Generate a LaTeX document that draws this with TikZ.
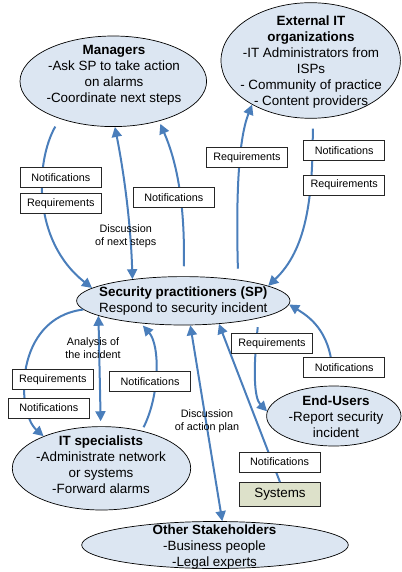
\documentclass[tikz,border=0pt]{standalone}
\usepackage{fontspec}
\setmainfont{Liberation Sans}
\usetikzlibrary{shapes.geometric,arrows.meta}

\definecolor{bubblefill}{RGB}{220,230,242}
\definecolor{flowblue}{RGB}{74,126,187}
\definecolor{sysfill}{RGB}{221,225,202}

\tikzset{
  bubble/.style={ellipse, draw=black, line width=0.7pt, fill=bubblefill, inner sep=0pt},
  bubtext/.style={align=center, inner sep=0pt, font=\fontsize{13.4}{16}\selectfont},
  sysbox/.style={draw=black!85, fill=sysfill, line width=0.7pt, minimum width=81pt, minimum height=24pt, inner sep=0pt, font=\fontsize{13.4}{16}\selectfont},
  tag/.style={draw=black!85, fill=white, line width=0.7pt, minimum width=81pt, minimum height=20pt, inner sep=0pt, font=\fontsize{10.8}{13}\selectfont},
  note/.style={align=center, inner sep=0pt, font=\fontsize{10.8}{12.5}\selectfont},
  flow/.style={draw=flowblue, line width=2pt, -{Triangle[length=10pt,width=10pt]}},
  twoway/.style={draw=flowblue, line width=2pt, {Triangle[length=10pt,width=10pt]}-{Triangle[length=10pt,width=10pt]}}
}

\begin{document}
\begin{tikzpicture}[x=1pt,y=-1pt]
\useasboundingbox (0,0) rectangle (401,572);

\node[bubble, minimum width=186.6pt, minimum height=90.6pt] (mgr) at (113.3,81.3) {};
\node[bubble, minimum width=179.4pt, minimum height=115.6pt] (ext) at (310.7,60.5) {};
\node[bubble, minimum width=213.4pt, minimum height=48.4pt] (sp) at (183.3,300.8) {};
\node[bubble, minimum width=178.4pt, minimum height=83.4pt] (its) at (101.5,468.3) {};
\node[bubble, minimum width=134.4pt, minimum height=60pt] (eu) at (333.8,416) {};
\node[bubble, minimum width=266.6pt, minimum height=47pt] (oth) at (215,545) {};
\node[sysbox] (sys) at (280,494.5) {Systems};

\node[bubtext] (mgrtxt) at (114,75) {\textbf{Managers}\\-Ask SP to take action\\on alarms\\-Coordinate next steps};
\node[bubtext] (exttxt) at (311,62) {\textbf{External IT}\\\textbf{organizations}\\-IT Administrators from\\ISPs\\- Community of practice\\- Content providers};
\node[bubtext] (sptxt) at (183.3,301.5) {\textbf{Security practitioners (SP)}\\Respond to security incident};
\node[bubtext] (itstxt) at (101,464.5) {\textbf{IT specialists}\\-Administrate network\\or systems\\-Forward alarms};
\node[bubtext] (eutxt) at (336,416.5) {\textbf{End-Users}\\-Report security\\incident};
\node[bubtext] (othtxt) at (214.5,547.5) {\textbf{Other Stakeholders}\\-Business people\\-Legal experts};

\draw[flow, shorten <=9pt] (mgr.215) .. controls (36,160) and (31,240) .. (sp.172);
\draw[twoway] (sp.157) .. controls (131,229) and (125,178) .. (mgr.272);
\draw[flow, shorten <=10pt, shorten >=3pt] (sp.89) .. controls (185,200) and (176,160) .. (mgr.319);
\draw[flow, shorten <=11pt] (sp.21) .. controls (236,200) and (238,140) .. (ext.217);
\draw[flow, shorten <=10pt] (ext.272) .. controls (313,200) and (306,250) .. (sp.10);

\draw[flow] (sp.185) .. controls (14,318) and (16,412) .. (its.151);
\draw[twoway, shorten >=5pt] (sp.190) -- (its.91);
\draw[flow, shorten <=4pt, shorten >=3pt] (its.43) .. controls (160,395) and (160,345) .. (sp.208);
\draw[twoway] (sp.286) -- (oth.73);
\draw[flow] (sys.north) -- (sp.327);
\draw[flow, shorten <=9pt] (sp.347) .. controls (253,370) and (254,398) .. (eu.176);
\draw[flow, shorten <=15pt] (eu.91) .. controls (330,330) and (308,316) .. (sp.358);

\foreach \name/\x/\y/\txt in {mgrnot/60.8/177.5/Notifications, mgrreq/60.8/203.7/Requirements,
  upnot/173.8/197.7/Notifications, extreq/247/157.3/Requirements, extnot/344.2/150.7/Notifications,
  spreq/344.2/185/Requirements, itreq/52.8/379.7/Requirements, itnot/48.8/408/Notifications,
  downnot/150/381.3/Notifications, eureq/272/343.3/Requirements, eunot/344.2/367.7/Notifications,
  sysnot/279.5/462/Notifications}
  \node[tag] (\name) at (\x,\y) {\txt};

\node[note] (nextsteps) at (125.7,236) {Discussion\\of next steps};
\node[note] (analysis) at (93,348) {Analysis of\\the incident};
\node[note] (actionplan) at (207,421) {Discussion\\of action plan};

\end{tikzpicture}
\end{document}
